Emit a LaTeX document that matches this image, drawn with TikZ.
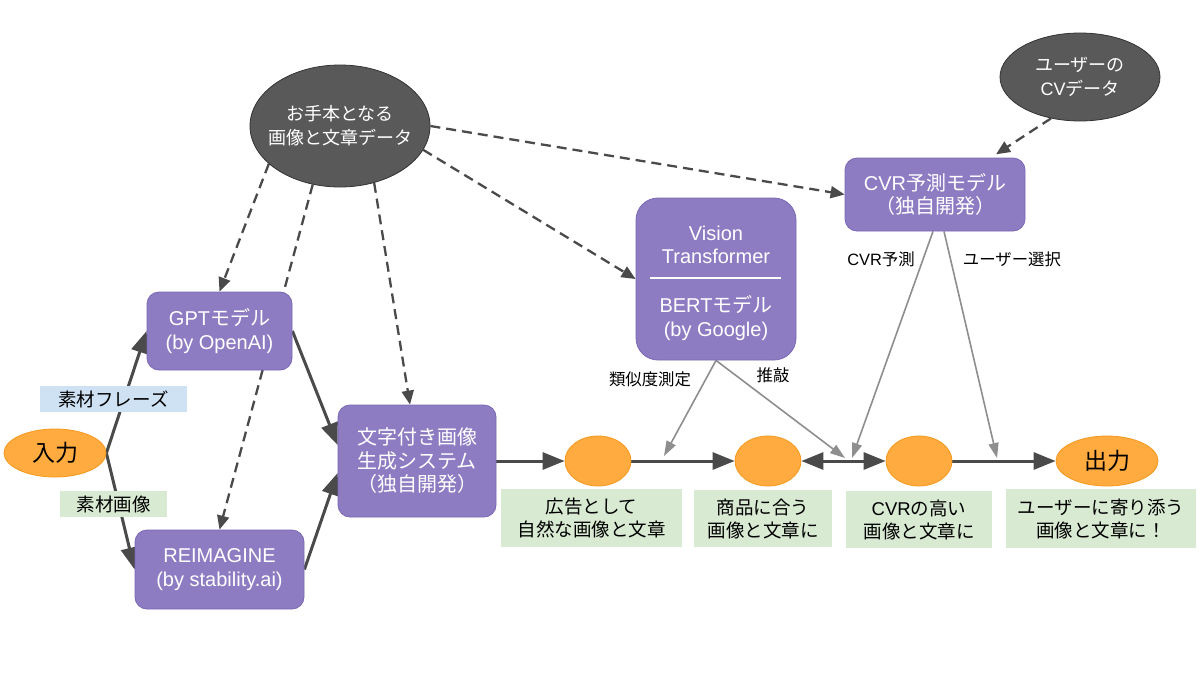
\documentclass[tikz,border=0pt]{standalone}
\usepackage{fontspec}
\setmainfont{Liberation Sans}
\newfontfamily\jp{Noto Sans CJK JP}
\newcommand\latn[1]{{\rmfamily #1}}
\usetikzlibrary{arrows.meta,shapes.geometric}
\pgfdeclarelayer{bglayer}
\pgfsetlayers{bglayer,main}
\definecolor{purp}{HTML}{8E7CC3}
\definecolor{purpd}{HTML}{7A67B5}
\definecolor{dgray}{HTML}{595959}
\definecolor{dgrayd}{HTML}{333333}
\definecolor{org}{HTML}{FFAB40}
\definecolor{orgd}{HTML}{F5981C}
\definecolor{lgreen}{HTML}{D9EAD3}
\definecolor{lblue}{HTML}{CFE2F3}
\definecolor{arr}{HTML}{4A4A4A}
\definecolor{garr}{HTML}{8E8E8E}
\tikzset{
  boxfont/.style={font=\fontsize{20}{23.5}\selectfont\jp},
  labfont/.style={font=\fontsize{18.5}{23}\selectfont\jp},
  pbox/.style={rectangle, rounded corners=12pt, fill=purp, draw=purpd, line width=0.8pt, text=white, align=center, inner sep=0pt, boxfont},
  dell/.style={ellipse, fill=dgray, draw=dgrayd, line width=0.8pt, inner sep=0pt},
  dtxt/.style={text=white, align=center, inner sep=0pt, font=\fontsize{18}{24}\selectfont\jp},
  oell/.style={ellipse, fill=org, draw=orgd, line width=0.8pt, inner sep=0pt, minimum width=66pt, minimum height=50pt, font=\fontsize{23}{28}\selectfont\jp},
  glab/.style={rectangle, fill=lgreen, inner sep=0pt, align=center, labfont},
  elab/.style={inner sep=0pt, align=center, font=\fontsize{16.4}{20}\selectfont\jp},
  thickarr/.style={draw=arr, line width=3pt, -{Triangle[length=22pt,width=17pt]}},
  dsharr/.style={draw=arr, line width=2.3pt, dash pattern=on 10pt off 6pt, -{Triangle[length=14pt,width=12pt]}},
  grarr/.style={draw=garr, line width=1.6pt, -{Triangle[length=15pt,width=10pt]}}
}
\begin{document}
\begin{tikzpicture}[x=1pt,y=-1pt]
\begin{pgfonlayer}{bglayer}
\fill[white] (0,0) rectangle (1200,673);
\end{pgfonlayer}
\useasboundingbox (0,0) rectangle (1200,673);

% nodes
\node[oell, minimum width=102pt, minimum height=48pt] (in) at (55,453) {入力};
\node[dell, minimum width=180pt, minimum height=122pt] (ot) at (340,126) {};
\node[dtxt] (ottxt) at (ot.center) {お手本となる\\画像と文章データ};
\node[dell, minimum width=160pt, minimum height=88pt] (cv) at (1080,77) {};
\node[dtxt] (cvtxt) at (cv.center) {ユーザーの\\\latn{CV}データ};
\node[pbox, minimum width=145pt, minimum height=78pt] (gpt) at (219.5,331) {\latn{GPT}モデル\\\latn{(by OpenAI)}};
\node[pbox, minimum width=169pt, minimum height=79pt] (rei) at (219.5,569.5) {\latn{REIMAGINE}\\\latn{(by stability.ai)}};
\node[pbox, minimum width=158pt, minimum height=112pt] (sys) at (417,461) {文字付き画像\\生成システム\\（独自開発）};
\node[pbox, rounded corners=22pt, minimum width=160pt, minimum height=162pt] (vt) at (716,279) {};
\node[boxfont, text=white, align=center, inner sep=0pt] (vt1) at (716,245) {\latn{Vision}\\\latn{Transformer}};
\node[boxfont, text=white, align=center, inner sep=0pt] (vt2) at (716,318) {\latn{BERT}モデル\\\latn{(by Google)}};
\draw[white, line width=1.2pt] (650,278) -- (781,278);
\node[pbox, minimum width=180pt, minimum height=73pt] (cvr) at (935,194.5) {\latn{CVR}予測モデル\\（独自開発）};

\node[oell] (e1) at (598,461) {};
\node[oell] (e2) at (768,461) {};
\node[oell] (e3) at (919,461) {};
\node[oell, minimum width=102pt] (out) at (1107,461) {出力};

\node[glab, minimum width=181pt, minimum height=58pt] (g1) at (591.5,518) {広告として\\自然な画像と文章};
\node[glab, minimum width=138pt, minimum height=57pt] (g2) at (763,518.5) {商品に合う\\画像と文章に};
\node[glab, minimum width=146pt, minimum height=57pt] (g3) at (919,519.5) {\latn{CVR}の高い\\画像と文章に};
\node[glab, minimum width=190pt, minimum height=59pt] (g4) at (1101,518.5) {ユーザーに寄り添う\\画像と文章に！};

% connectors (behind the nodes)
\begin{pgfonlayer}{bglayer}
\draw[thickarr] (in.east) -- (gpt.west);
\draw[thickarr] (in.east) -- (rei.west);
\draw[thickarr] (gpt.east) -- ([yshift=16pt]sys.west);
\draw[thickarr] (rei.east) -- ([yshift=-12pt]sys.west);
\draw[thickarr] (sys.east) -- (e1.west);
\draw[thickarr] (e1.east) -- (e2.west);
\draw[draw=arr, line width=3pt, {Triangle[length=22pt,width=17pt]}-{Triangle[length=22pt,width=17pt]}] (e2.east) -- (e3.west);
\draw[thickarr] (e3.east) -- (out.west);

\draw[dsharr] (ot.208) -- (gpt.north);
\draw[dsharr] (ot.245) -- (rei.north);
\draw[dsharr] (ot.301) -- ([xshift=-7pt]sys.north);
\draw[dsharr] (ot.344) -- (vt.west);
\draw[dsharr] (ot.east) -- (cvr.west);
\draw[dsharr, shorten >=6pt] (cv.235) -- ([xshift=56pt]cvr.north);

\coordinate (p1) at (664,456);
\coordinate (p2) at (845,458);
\coordinate (p3) at (852,458);
\coordinate (p4) at (997,458);
\draw[grarr] (vt.south) -- (p1);
\draw[grarr] (vt.south) -- (p2);
\draw[grarr] ([xshift=-2pt]cvr.south) -- (p3);
\draw[grarr] ([xshift=9pt]cvr.south) -- (p4);
\end{pgfonlayer}

% labels
\node[rectangle, fill=lblue, inner sep=0pt, minimum width=147pt, minimum height=26pt, labfont] (lb1) at (113.5,399) {素材フレーズ};
\node[rectangle, fill=lgreen, inner sep=0pt, minimum width=107pt, minimum height=26pt, labfont] (lb2) at (113.5,504) {素材画像};
\node[elab] (l1) at (650,379) {類似度測定};
\node[elab] (l2) at (773,375) {推敲};
\node[elab] (l3) at (881,259) {\latn{CVR}予測};
\node[elab] (l4) at (1012,259) {ユーザー選択};
\end{tikzpicture}
\end{document}
